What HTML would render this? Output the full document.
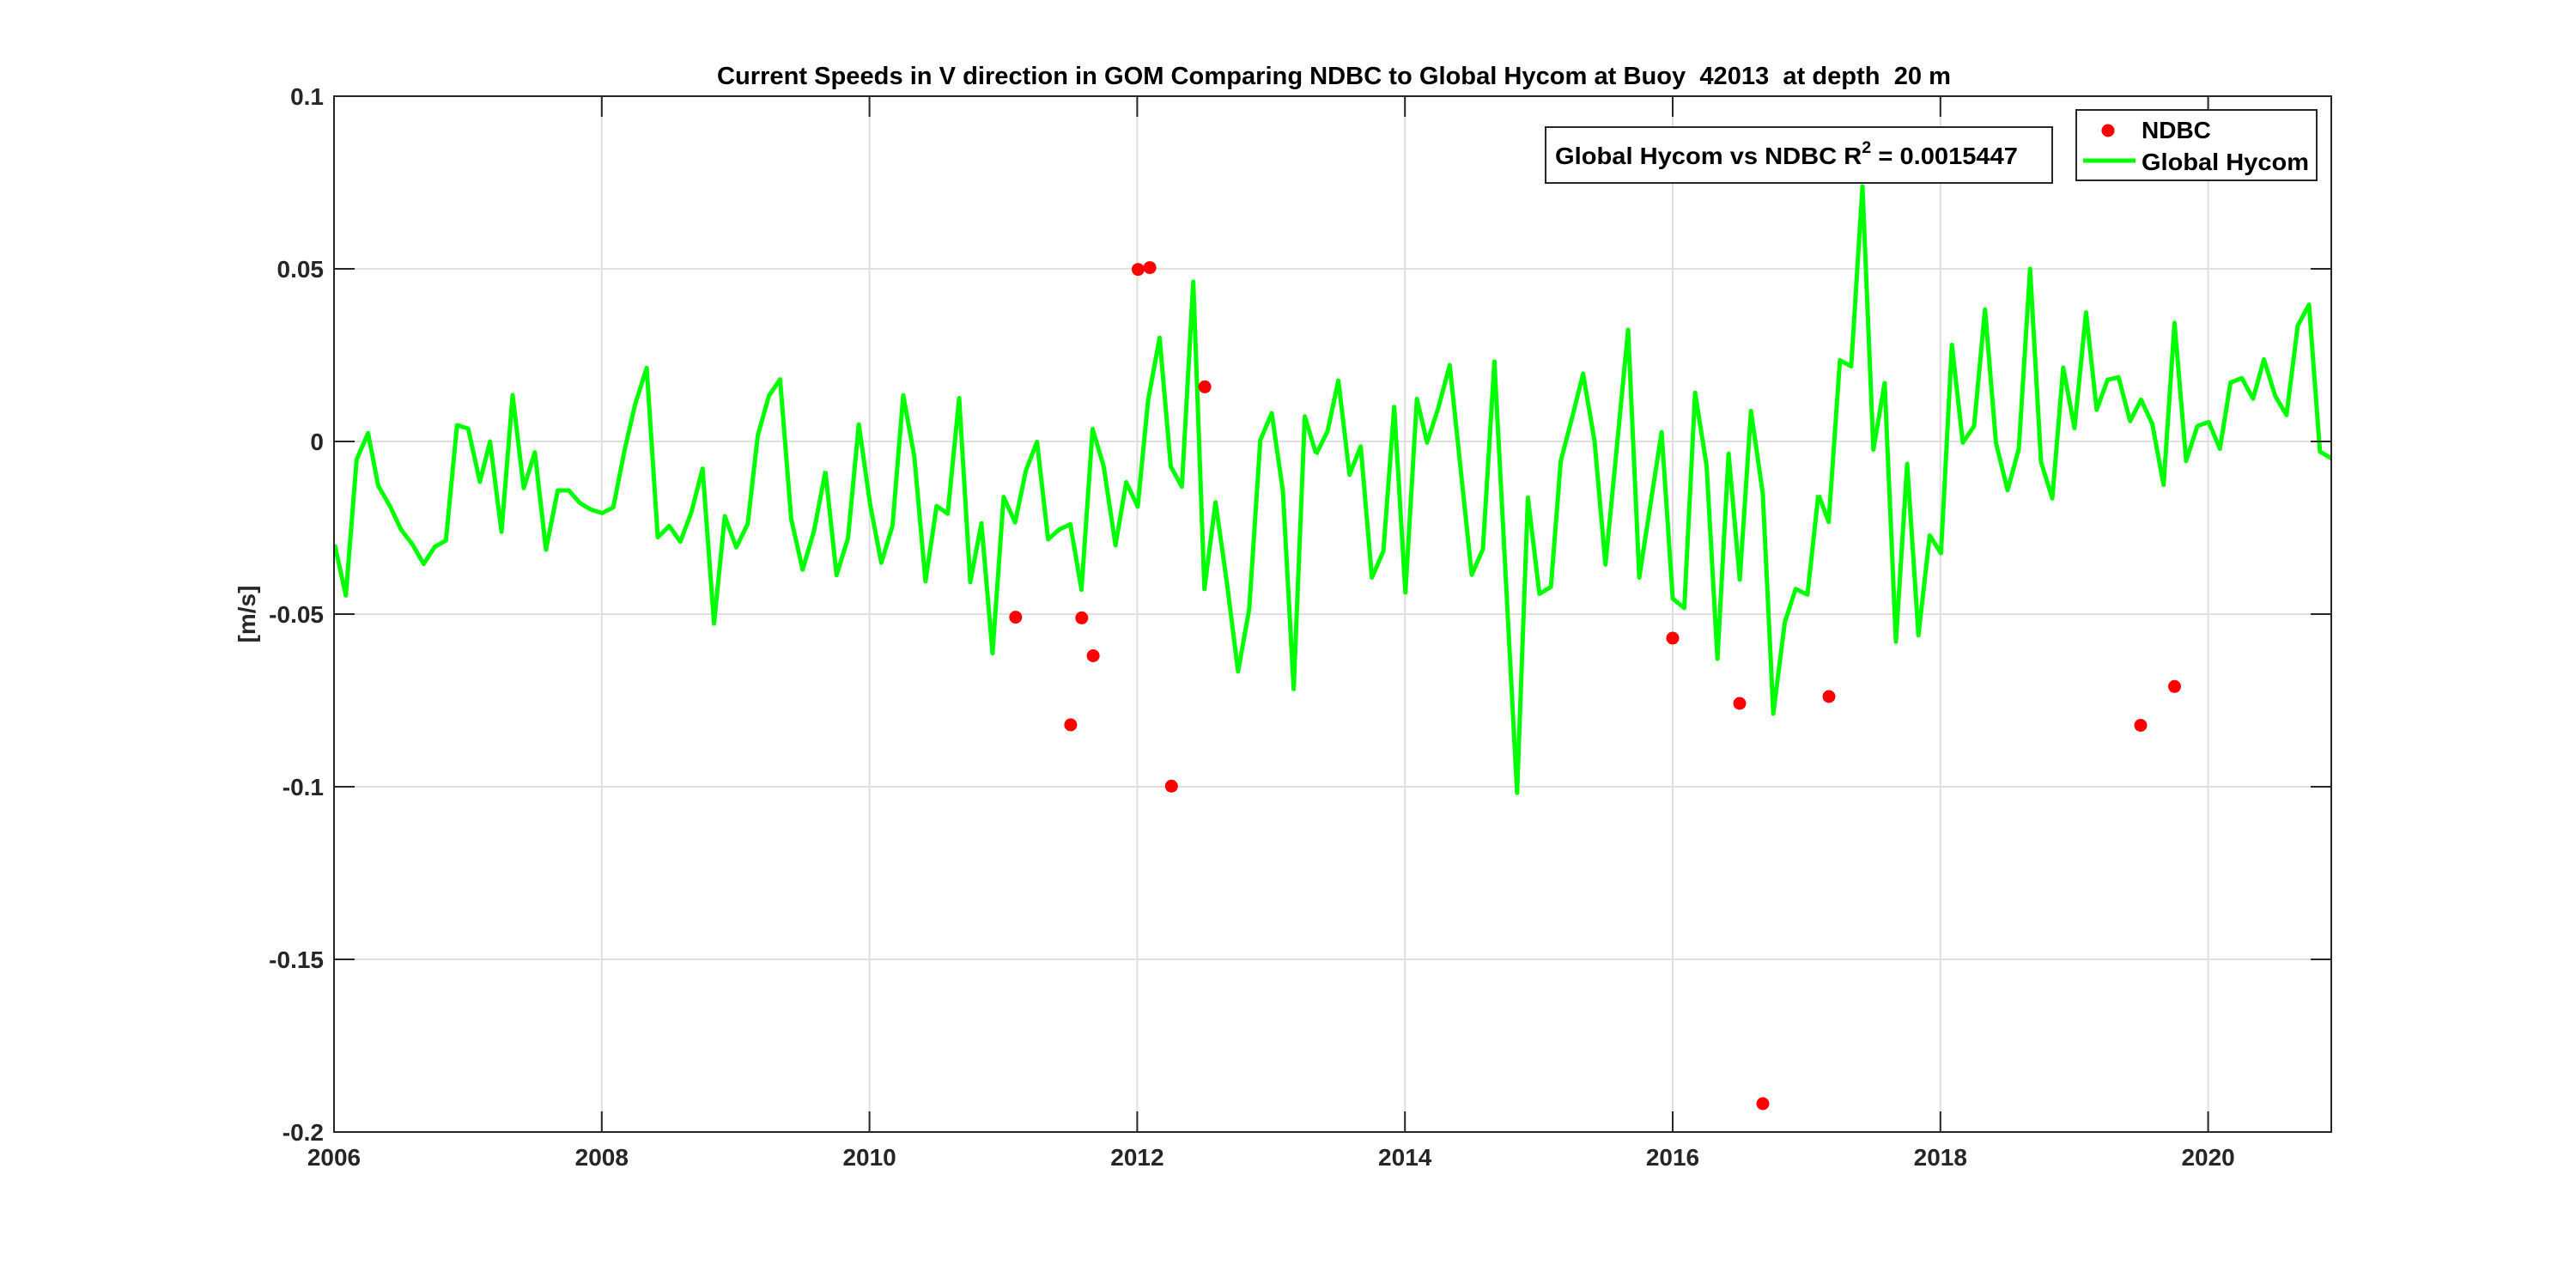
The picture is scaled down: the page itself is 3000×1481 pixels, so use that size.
<!DOCTYPE html>
<html><head><meta charset="utf-8"><style>
html,body{margin:0;padding:0;background:#fff}
svg{display:block}
text{font-family:"Liberation Sans",Arial,sans-serif;font-weight:bold;fill:#262626}
</style></head><body>
<svg width="3000" height="1481" viewBox="0 0 3000 1481" xmlns="http://www.w3.org/2000/svg">
<rect width="3000" height="1481" fill="#fff"/>
<g stroke="#dfdfdf" stroke-width="2">
<line x1="389" y1="112" x2="389" y2="1318"/><line x1="700.8" y1="112" x2="700.8" y2="1318"/><line x1="1012.6" y1="112" x2="1012.6" y2="1318"/><line x1="1324.4" y1="112" x2="1324.4" y2="1318"/><line x1="1636.2" y1="112" x2="1636.2" y2="1318"/><line x1="1948" y1="112" x2="1948" y2="1318"/><line x1="2259.8" y1="112" x2="2259.8" y2="1318"/><line x1="2571.6" y1="112" x2="2571.6" y2="1318"/>
<line x1="389" y1="313" x2="2715" y2="313"/><line x1="389" y1="514" x2="2715" y2="514"/><line x1="389" y1="715" x2="2715" y2="715"/><line x1="389" y1="916" x2="2715" y2="916"/><line x1="389" y1="1117" x2="2715" y2="1117"/>
</g>
<defs><clipPath id="c"><rect x="389" y="112" width="2326" height="1206"/></clipPath></defs>
<g clip-path="url(#c)" fill="none" stroke="#00ff00" stroke-width="5" stroke-linejoin="round">
<g transform="translate(385,380) scale(0.36996,0.33333)"><polyline vector-effect="non-scaling-stroke" points="13,763 48,940 82,465 118,373 150,557 188,630 222,710 258,762 293,830 328,770 363,748 398,345 433,357 470,543 502,402 538,718 573,240 608,565 643,440 678,780 715,573 750,573 785,617 820,640 855,652 890,632 925,435 958,275 995,145 1030,737 1066,697 1101,752 1136,648 1171,497 1207,1038 1241,663 1277,772 1313,690 1345,380 1380,242 1415,185 1450,673 1486,850 1522,713 1558,505"/></g>
<g transform="translate(955,290) scale(0.36996,0.40816)"><polyline vector-effect="non-scaling-stroke" points="17,635 52,930 88,825 122,500 158,730 193,895 228,790 262,417 297,593 332,948 367,733 402,755 438,425 473,950 508,782 543,1153 578,707 614,780 648,632 683,550 718,828 753,800 788,785 823,972 858,513 893,620 930,845 964,665 1000,735 1033,430 1069,253 1104,620 1139,678 1175,93 1210,970 1245,722 1282,960 1316,1205 1351,1027 1386,545 1422,468 1457,690 1491,1255 1526,477 1561,582"/></g>
<g transform="translate(1525,190) scale(0.38256,0.47304)"><polyline vector-effect="non-scaling-stroke" points="20,717 55,660 88,535 122,767 156,697 190,1020 225,955 258,600 292,1057 327,580 358,688 392,603 427,497 494,1013 528,950 563,488 632,1550 665,823 700,1060 735,1043 765,733 800,625 833,518 868,685 901,988 935,705 970,410 1004,1020 1038,840 1072,662 1106,1072 1141,1095 1174,565 1209,745 1242,1220 1276,715 1310,1025 1344,610 1380,813 1412,1355 1447,1130 1480,1048 1516,1062 1549,817"/></g>
<g transform="translate(2115,190) scale(0.3858,0.47304)"><polyline vector-effect="non-scaling-stroke" points="8,817 38,883 72,485 106,500 140,57 173,705 207,541 241,1178 275,740 309,1162 343,916 377,960 410,447 443,688 477,647 510,360 543,688 578,805 612,703 646,260 679,735 713,825 746,503 780,652 815,367 847,607 880,533 913,527 948,635 981,582 1015,642 1049,792 1082,393 1117,733 1151,647 1185,637 1219,703 1251,540 1285,529 1319,580 1352,483 1386,573 1420,620 1454,400 1488,348 1521,710 1556,727"/></g>
</g>
<g fill="#ff0000">
<circle cx="1182.8" cy="718.6" r="7.5"/><circle cx="1259.8" cy="719.4" r="7.5"/><circle cx="1273.1" cy="763.5" r="7.5"/><circle cx="1246.9" cy="843.9" r="7.5"/><circle cx="1325.4" cy="313.7" r="7.5"/><circle cx="1339.1" cy="311.6" r="7.5"/><circle cx="1403.1" cy="450.4" r="7.5"/><circle cx="1364.3" cy="915.3" r="7.5"/>
<circle cx="1948" cy="743" r="7.5"/><circle cx="2026" cy="819" r="7.5"/><circle cx="2053" cy="1285" r="7.5"/><circle cx="2130" cy="811" r="7.5"/><circle cx="2493" cy="844.5" r="7.5"/><circle cx="2532.5" cy="799.3" r="7.5"/>
</g>
<g stroke="#262626" stroke-width="2" fill="none">
<rect x="389" y="112" width="2326" height="1206"/>
<path d="M700.8 1318v-24M1012.6 1318v-24M1324.4 1318v-24M1636.2 1318v-24M1948 1318v-24M2259.8 1318v-24M2571.6 1318v-24
M700.8 112v24M1012.6 112v24M1324.4 112v24M1636.2 112v24M1948 112v24M2259.8 112v24M2571.6 112v24
M389 313h24M389 514h24M389 715h24M389 916h24M389 1117h24
M2715 313h-24M2715 514h-24M2715 715h-24M2715 916h-24M2715 1117h-24"/>
</g>
<g font-size="28" text-anchor="end">
<text x="377" y="122">0.1</text><text x="377" y="323">0.05</text><text x="377" y="524">0</text><text x="377" y="725">-0.05</text><text x="377" y="926">-0.1</text><text x="377" y="1127">-0.15</text><text x="377" y="1328">-0.2</text>
</g>
<g font-size="28" text-anchor="middle">
<text x="389" y="1357">2006</text><text x="700.8" y="1357">2008</text><text x="1012.6" y="1357">2010</text><text x="1324.4" y="1357">2012</text><text x="1636.2" y="1357">2014</text><text x="1948" y="1357">2016</text><text x="2259.8" y="1357">2018</text><text x="2571.6" y="1357">2020</text>
</g>
<text x="297" y="715" font-size="28" text-anchor="middle" transform="rotate(-90 297 715)">[m/s]</text>
<text x="835" y="98" font-size="29" style="fill:#000;white-space:pre" xml:space="preserve" textLength="1437" lengthAdjust="spacingAndGlyphs">Current Speeds in V direction in GOM Comparing NDBC to Global Hycom at Buoy  42013  at depth  20 m</text>
<rect x="1800" y="148" width="590" height="65" fill="#fff" stroke="#262626" stroke-width="2"/>
<text x="1811" y="191" font-size="28" style="fill:#000" textLength="539" lengthAdjust="spacingAndGlyphs">Global Hycom vs NDBC R<tspan font-size="19" dy="-13">2</tspan><tspan dy="13"> = 0.0015447</tspan></text>
<rect x="2418" y="128" width="280" height="82" fill="#fff" stroke="#262626" stroke-width="2"/>
<circle cx="2455" cy="152" r="7.5" fill="#ff0000"/>
<text x="2494" y="161" font-size="28" style="fill:#000">NDBC</text>
<line x1="2426" y1="187" x2="2487" y2="187" stroke="#00ff00" stroke-width="5"/>
<text x="2494" y="198" font-size="28" style="fill:#000" textLength="195" lengthAdjust="spacingAndGlyphs">Global Hycom</text>
</svg>
</body></html>
